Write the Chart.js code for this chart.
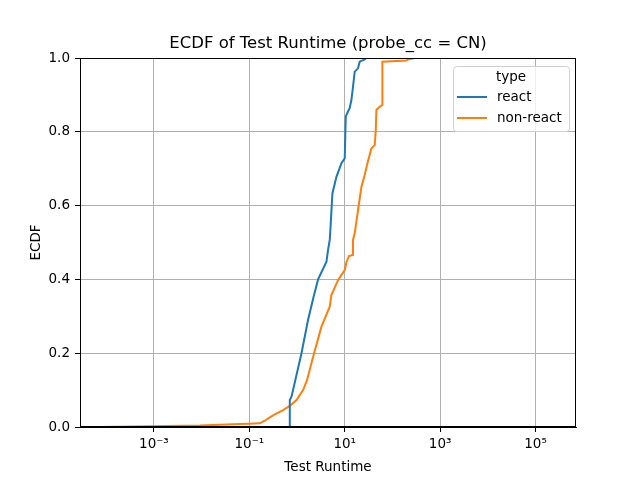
<!DOCTYPE html>
<html>
<head>
<meta charset="utf-8">
<script src="https://cdn.jsdelivr.net/npm/chart.js@4"></script>
<style>
  html, body { margin: 0; padding: 0; background: #fff; }
  canvas { display: block; }
</style>
</head>
<body>
<canvas id="grafico" width="640" height="480"></canvas>
<script>
// valores (x em segundos, y = ECDF)
const reactX = [0.23, 0.705, 0.705, 0.766, 1.24, 1.70, 2.20, 2.76, 4.14, 4.47, 4.85, 5.0, 5.52, 6.70, 8.53, 10.0, 10.5, 11.7, 12.7, 13.8, 14.9, 16.2, 19.0, 20.6, 26.2, 28.5];
const reactY = [0, 0, 0.073, 0.082, 0.20, 0.29, 0.35, 0.40, 0.448, 0.48, 0.507, 0.534, 0.633, 0.678, 0.715, 0.728, 0.841, 0.855, 0.864, 0.886, 0.922, 0.963, 0.972, 0.990, 0.996, 1.0];

const nonReactX = [8.0e-5, 8.2e-4, 0.0092, 0.063, 0.10, 0.166, 0.211, 0.269, 0.342, 0.511, 0.705, 0.974, 1.34, 1.62, 2.17, 3.25, 4.85, 5.26, 7.24, 10, 10.9, 12.3, 14.9, 14.9, 16.2, 19.0, 22.4, 26.2, 29.9, 36.2, 42.5, 44.6, 46.1, 54.1, 61.6, 61.6, 196, 212, 292];
const nonReactY = [0, 0.002, 0.004, 0.008, 0.009, 0.010, 0.017, 0.026, 0.034, 0.046, 0.057, 0.073, 0.10, 0.127, 0.19, 0.272, 0.326, 0.358, 0.398, 0.425, 0.448, 0.463, 0.466, 0.507, 0.525, 0.588, 0.651, 0.683, 0.715, 0.755, 0.764, 0.80, 0.859, 0.868, 0.873, 0.99, 0.993, 0.996, 1.0];

const xTicks = [1e-3, 1e-1, 1e1, 1e3, 1e5];
const yTicks = [0, 0.2, 0.4, 0.6, 0.8, 1.0];
const series = ['react', 'non-react'];
const cores = ['#1f77b4', '#ff7f0e'];

const FONTE = '"DejaVu Sans", sans-serif';
const sup = { '-': '\u207B', '0': '\u2070', '1': '\u00B9', '2': '\u00B2', '3': '\u00B3', '4': '\u2074', '5': '\u2075', '6': '\u2076', '7': '\u2077', '8': '\u2078', '9': '\u2079' };

function pontos(xs, ys) {
  return xs.map((x, i) => ({ x: x, y: ys[i] }));
}

// título, rótulos dos eixos, moldura e legenda
const extras = {
  id: 'extras',
  afterDraw(chart) {
    const ctx = chart.ctx;
    const a = chart.chartArea;
    ctx.save();
    ctx.strokeStyle = '#000';
    ctx.lineWidth = 1;
    ctx.strokeRect(a.left + 0.5, a.top + 0.5, a.right - a.left - 1, a.bottom - a.top - 1);

    ctx.fillStyle = '#000';
    ctx.textAlign = 'center';
    ctx.textBaseline = 'middle';
    ctx.font = '16.5px ' + FONTE;
    ctx.fillText('ECDF of Test Runtime (probe_cc = CN)', (a.left + a.right) / 2, 44);

    ctx.font = '13.5px ' + FONTE;
    ctx.fillText('Test Runtime', (a.left + a.right) / 2, 467);
    ctx.save();
    ctx.translate(36, (a.top + a.bottom) / 2);
    ctx.rotate(-Math.PI / 2);
    ctx.fillText('ECDF', 0, 0);
    ctx.restore();

    // legenda
    const lx = 453, ly = 66, lw = 116, lh = 65;
    ctx.fillStyle = 'rgba(255,255,255,0.8)';
    ctx.strokeStyle = '#d0d0d0';
    ctx.beginPath();
    ctx.roundRect(lx + 0.5, ly + 0.5, lw, lh, 3);
    ctx.fill();
    ctx.stroke();
    ctx.fillStyle = '#000';
    ctx.textAlign = 'center';
    ctx.fillText('type', 511, 77);
    ctx.textAlign = 'left';
    series.forEach((nome, i) => {
      const y = 97 + i * 21;
      ctx.strokeStyle = cores[i];
      ctx.lineWidth = 2;
      ctx.beginPath();
      ctx.moveTo(457, y);
      ctx.lineTo(487, y);
      ctx.stroke();
      ctx.fillText(nome, 497, y);
    });
    ctx.restore();
  }
};

new Chart(document.getElementById('grafico'), {
  type: 'scatter',
  data: {
    datasets: [
      { label: series[0], data: pontos(reactX, reactY), showLine: true, borderColor: cores[0], backgroundColor: cores[0], borderWidth: 2, pointRadius: 0 },
      { label: series[1], data: pontos(nonReactX, nonReactY), showLine: true, borderColor: cores[1], backgroundColor: cores[1], borderWidth: 2, pointRadius: 0 }
    ]
  },
  options: {
    responsive: false,
    animation: false,
    devicePixelRatio: 1,
    layout: { padding: { left: 0, top: 58, right: 64, bottom: 0 } },
    plugins: { legend: { display: false }, title: { display: false }, tooltip: { enabled: false } },
    scales: {
      x: {
        type: 'logarithmic',
        min: 2.82e-5,
        max: 7.05e5,
        afterFit: s => { s.height = 53; },
        afterBuildTicks: s => { s.ticks = xTicks.map(v => ({ value: v })); },
        grid: { color: '#b0b0b0', lineWidth: 1, tickColor: '#000', tickLength: 5 },
        border: { color: '#000', width: 1 },
        ticks: {
          autoSkip: false,
          maxRotation: 0,
          padding: 4,
          color: '#000',
          font: { family: FONTE, size: 13.5 },
          callback: v => '10' + String(Math.round(Math.log10(v))).split('').map(c => sup[c]).join('')
        }
      },
      y: {
        min: 0,
        max: 1,
        afterFit: s => { s.width = 80; },
        afterBuildTicks: s => { s.ticks = yTicks.map(v => ({ value: v })); },
        grid: { color: '#b0b0b0', lineWidth: 1, tickColor: '#000', tickLength: 5 },
        border: { color: '#000', width: 1 },
        ticks: {
          padding: 5,
          color: '#000',
          font: { family: FONTE, size: 13.5 },
          callback: v => v.toFixed(1)
        }
      }
    }
  },
  plugins: [extras]
});
</script>
</body>
</html>
